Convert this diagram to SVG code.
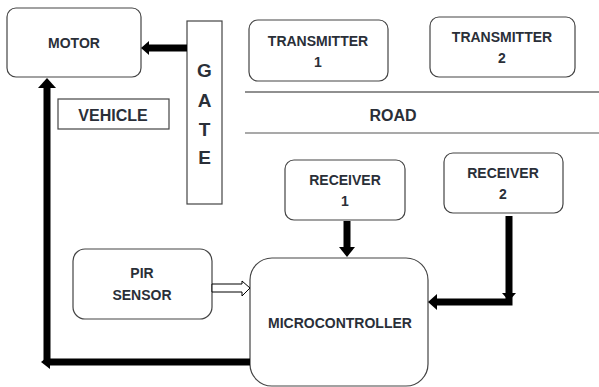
<svg xmlns="http://www.w3.org/2000/svg" width="599" height="387" viewBox="0 0 599 387">
<style>
.box{fill:#fff;stroke:#444;stroke-width:1.2}
.t{font-family:"Liberation Sans",Arial,sans-serif;font-weight:bold;fill:#2a2f38;text-anchor:middle;font-size:14px}
.big{font-size:16px}
.g{font-size:19px}
.thick{stroke:#000;stroke-width:7;fill:none}
</style>
<rect width="599" height="387" fill="#fff"/>
<g id="motor"><rect class="box" x="7" y="8" width="134" height="69" rx="9"/><text class="t" x="74" y="48">MOTOR</text></g>
<g id="gate"><rect class="box" x="187" y="21" width="35" height="183"/>
<text class="t g" x="204.5" y="77">G</text><text class="t g" x="204.5" y="107">A</text><text class="t g" x="204.5" y="136">T</text><text class="t g" x="204.5" y="164">E</text></g>
<g id="vehicle"><rect class="box" x="58" y="99" width="111" height="30"/><text class="t big" x="113" y="121">VEHICLE</text></g>
<g id="transmitter1"><rect class="box" x="249" y="20" width="139" height="61" rx="9"/><text class="t" x="318" y="46">TRANSMITTER</text><text class="t" x="318" y="67">1</text></g>
<g id="transmitter2"><rect class="box" x="430" y="17" width="145" height="60" rx="9"/><text class="t" x="502" y="42">TRANSMITTER</text><text class="t" x="502" y="63">2</text></g>
<g id="road"><line x1="245" y1="92" x2="599" y2="92" stroke="#222" stroke-width="1.2"/><line x1="245" y1="133" x2="599" y2="133" stroke="#555" stroke-width="1.2"/><text class="t big" x="393" y="121">ROAD</text></g>
<g id="receiver1"><rect class="box" x="285" y="160" width="120" height="60" rx="9"/><text class="t" x="345" y="185">RECEIVER</text><text class="t" x="345" y="206">1</text></g>
<g id="receiver2"><rect class="box" x="444" y="153" width="119" height="60" rx="9"/><text class="t" x="503" y="178">RECEIVER</text><text class="t" x="503" y="199">2</text></g>
<g id="pir"><rect class="box" x="73" y="249" width="139" height="70" rx="12"/><text class="t" x="142" y="278">PIR</text><text class="t" x="142" y="300">SENSOR</text></g>
<g id="microcontroller"><rect class="box" x="250" y="258" width="178" height="128" rx="22"/><text class="t" x="340" y="328">MICROCONTROLLER</text></g>
<g id="connectors">
<line class="thick" x1="187" y1="48" x2="146" y2="48"/>
<polygon points="141,48 149,41 149,55" fill="#000"/>
<line class="thick" x1="250" y1="362" x2="46" y2="362"/>
<polygon points="41,362 50,355 50,369" fill="#000"/>
<line class="thick" x1="47" y1="362" x2="47" y2="86"/>
<polygon points="47,78 38,88 56,88" fill="#000"/>
<line class="thick" x1="347" y1="221" x2="347" y2="249"/>
<polygon points="347,257 339,247 355,247" fill="#000"/>
<polyline class="thick" points="509,216 509,302 436,302"/>
<polygon points="509,301 502,293 516,293" fill="#000"/>
<polygon points="428,302 437,294 437,310" fill="#000"/>
<polygon points="212,284 242,284 242,281 250,288 242,296 242,292 212,292" fill="#fff" stroke="#000" stroke-width="1"/>
</g>
</svg>
